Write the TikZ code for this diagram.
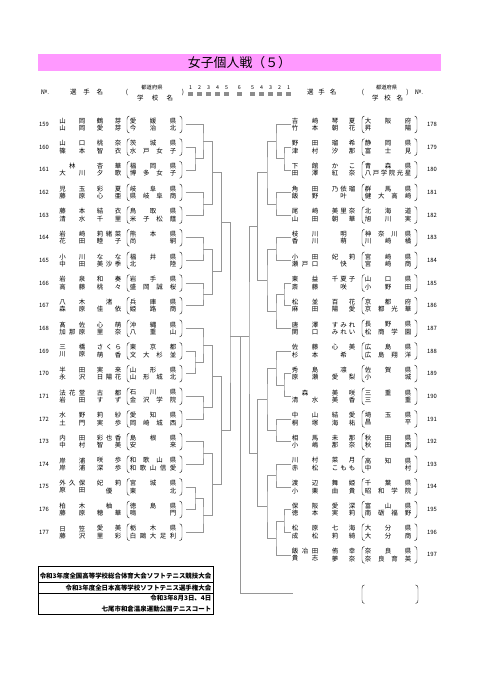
\documentclass[tikz,border=0pt]{standalone}
\usepackage{fontspec}
\setmainfont{Noto Sans CJK JP}
\usetikzlibrary{calc}
\definecolor{titlepink}{RGB}{255,153,255}
\definecolor{linegray}{RGB}{150,150,150}
\definecolor{markgray}{RGB}{140,140,140}
\newlength\px
\setlength\px{0.03cm}

\makeatletter
\def\spreadchars#1{\spread@step#1\relax}
\def\spread@step#1#2{#1\ifx\relax#2\else\hfill\expandafter\spread@step\expandafter#2\fi}
\makeatother

\newcommand{\openbr}[3]{%
  \draw[paren] ({#1+2.4},{#2-#3}) .. controls ({#1+0.4},{#2-#3+0.3}) and ({#1},{#2-#3+1.5}) .. ({#1},{#2-#3+3.5})
    -- ({#1},{#2+#3-3.5}) .. controls ({#1},{#2+#3-1.5}) and ({#1+0.4},{#2+#3-0.3}) .. ({#1+2.4},{#2+#3});}
\newcommand{\closebr}[3]{%
  \draw[paren] ({#1-2.4},{#2-#3}) .. controls ({#1-0.4},{#2-#3+0.3}) and ({#1},{#2-#3+1.5}) .. ({#1},{#2-#3+3.5})
    -- ({#1},{#2+#3-3.5}) .. controls ({#1},{#2+#3-1.5}) and ({#1-0.4},{#2+#3-0.3}) .. ({#1-2.4},{#2+#3});}

\newcommand{\entL}[7]{%
  \pgfmathsetmacro\ey{124.5+22.65*(#1-159)}
  \node[num] (n#1) at (44,\ey) {#1};
  \node[nm] (sa#1) at (72.25,{\ey-3.7}) {\makebox[26\px]{\spreadchars{#2}}};
  \node[nm] (ga#1) at (109,{\ey-3.7}) {\makebox[24.5\px]{\spreadchars{#3}}};
  \node[nm] (ka#1) at (153,{\ey-3.7}) {\makebox[46.5\px]{\spreadchars{#4}}};
  \node[nm] (sb#1) at (72.25,{\ey+3.7}) {\makebox[26\px]{\spreadchars{#5}}};
  \node[nm] (gb#1) at (109,{\ey+3.7}) {\makebox[24.5\px]{\spreadchars{#6}}};
  \node[nm] (kb#1) at (153,{\ey+3.7}) {\makebox[46.5\px]{\spreadchars{#7}}};
  \openbr{127}{\ey}{8.5}\closebr{182}{\ey}{8.5}
  \coordinate (e#1) at (185.5,\ey);}

\newcommand{\entR}[7]{%
  \pgfmathsetmacro\ey{124.5+22.65*(#1-178)}
  \node[num] (n#1) at (432,\ey) {#1};
  \node[nm] (sa#1) at (305,{\ey-3.7}) {\makebox[26.4\px]{\spreadchars{#2}}};
  \node[nm] (ga#1) at (343.5,{\ey-3.7}) {\makebox[23.5\px]{\spreadchars{#3}}};
  \node[nm] (ka#1) at (388,{\ey-3.7}) {\makebox[46.5\px]{\spreadchars{#4}}};
  \node[nm] (sb#1) at (305,{\ey+3.7}) {\makebox[26.4\px]{\spreadchars{#5}}};
  \node[nm] (gb#1) at (343.5,{\ey+3.7}) {\makebox[23.5\px]{\spreadchars{#6}}};
  \node[nm] (kb#1) at (388,{\ey+3.7}) {\makebox[46.5\px]{\spreadchars{#7}}};
  \openbr{362}{\ey}{8.5}\closebr{417}{\ey}{8.5}
  \coordinate (e#1) at (291,\ey);}

\newcommand{\pairup}[4]{%
  \path let \p1=(#2), \p2=(#3), \p3=(#4,0) in coordinate (#1) at (\x3,{(\y1+\y2)/2});
  \draw[brk] (#2) -| (#1) |- (#3);}

\begin{document}
\begin{tikzpicture}[x=0.03cm,y=-0.03cm,
    nm/.style={inner sep=0pt,font=\fontsize{5.5}{6}\selectfont},
    num/.style={inner sep=0pt,font=\fontsize{5}{6}\selectfont},
    hd/.style={inner sep=0pt,font=\fontsize{5.5}{6}\selectfont},
    hs/.style={inner sep=0pt,font=\fontsize{4.5}{5}\selectfont},
    info/.style={inner sep=0pt,anchor=east,font=\fontsize{5.5}{6}\selectfont\bfseries},
    brk/.style={draw=linegray,line width=0.45pt},
    paren/.style={draw=black!80,line width=0.4pt}]
  \useasboundingbox (0,0) rectangle (480,679);
  \fill[white] (0,0) rectangle (480,679);

  \node[fill=titlepink,minimum width=403\px,minimum height=16.5\px,inner sep=0pt,
    font=\fontsize{11}{13}\selectfont] (title) at (239.5,62.5) {女子個人戦（５）};

  \node[hd] (hnoL) at (45,92) {№.};
  \node[hd] (hnameL) at (86.5,92) {\makebox[33\px]{\spreadchars{選手名}}};
  \node[hd] (hopL) at (127,92) {(};
  \node[hs] (hprefL) at (152,87.7) {都道府県};
  \node[hd] (hschL) at (155,98.5) {\makebox[36\px]{\spreadchars{学校名}}};
  \node[hd] (hclL) at (183,92) {)};
  \node[hd] (hnameR) at (321.7,92) {\makebox[29\px]{\spreadchars{選手名}}};
  \node[hd] (hopR) at (363,92) {(};
  \node[hs] (hprefR) at (386.7,87.7) {都道府県};
  \node[hd] (hschR) at (387.5,98.5) {\makebox[31\px]{\spreadchars{学校名}}};
  \node[hd] (hclR) at (407.5,92) {)};
  \node[hd] (hnoR) at (419,92) {№.};
  \foreach \r/\xx [count=\i] in {1/190.7,2/199.5,3/208.5,4/217.7,5/226.7,6/239.3,5/252.7,4/261.7,3/270.7,2/279.5,1/288.5}{
    \node[hs] (rd\i) at (\xx,87.7) {\r};
    \fill[markgray] ({\xx-2.7},92.3) rectangle ({\xx+2.7},96.3);
  }

  \entL{159}{山岡}{鶴芽}{愛媛県}{山岡}{愛芽}{今治北}
  \entL{160}{山口}{桃奈}{茨城県}{篠本}{智衣}{水戸女子}
  \entL{161}{林}{杏華}{福岡県}{大川}{夕歌}{博多女子}
  \entL{162}{児玉}{彩夏}{岐阜県}{藤原}{心亜}{県岐阜商}
  \entL{163}{藤本}{結衣}{鳥取県}{清水}{千里}{米子松蔭}
  \entL{164}{岩崎}{莉緒菜}{熊本県}{花田}{睦子}{尚絅}
  \entL{165}{小川}{なな}{福井県}{中田}{美沙季}{北陸}
  \entL{166}{岩泉}{和奏}{岩手県}{高藤}{桃々}{盛岡誠桜}
  \entL{167}{八木}{渚}{兵庫県}{森原}{佳依}{姫路商}
  \entL{168}{髙佐}{心萌}{沖縄県}{加那原}{里奈}{八重山}
  \entL{169}{三橋}{さくら}{東京都}{川原}{萌香}{文大杉並}
  \entL{170}{半田}{実来}{山形県}{永沢}{日陽花}{山形城北}
  \entL{171}{法花堂}{古都}{石川県}{岩田}{すず}{金沢学院}
  \entL{172}{水野}{莉紗}{愛知県}{土門}{実歩}{岡崎城西}
  \entL{173}{内田}{彩也香}{島根県}{中村}{智美}{安来}
  \entL{174}{岸浦}{咲歩}{和歌山県}{岸浦}{深歩}{和歌山信愛}
  \entL{175}{外久保}{妃莉}{宮城県}{原田}{優}{東北}
  \entL{176}{柏木}{柚}{徳島県}{藤原}{穂華}{鳴門}
  \entL{177}{日笠}{愛美}{栃木県}{藤沢}{里彩}{白鷗大足利}

  \entR{178}{吉崎}{琴夏}{大阪府}{竹本}{朝花}{昇陽}
  \entR{179}{野田}{瑠希}{静岡県}{津村}{汐那}{富士見}
  \entR{180}{下館}{かこ}{青森県}{田澤}{紅奈}{八戸学院光星}
  \entR{181}{角田}{乃依瑠}{群馬県}{飯野}{叶}{健大高崎}
  \entR{182}{尾崎}{美里奈}{北海道}{山田}{朝華}{旭川実}
  \entR{183}{枝川}{明}{神奈川県}{香川}{萌}{川崎橘}
  \entR{184}{小田}{妃莉}{宮崎県}{瀬戸口}{快}{宮崎商}
  \entR{185}{東益}{千夏子}{山口県}{斎藤}{咲}{小野田}
  \entR{186}{松並}{百花}{京都府}{麻田}{陽愛}{京都光華}
  \entR{187}{唐澤}{すみれ}{長野県}{関口}{みれい}{松商学園}
  \entR{188}{佐藤}{心美}{広島県}{杉本}{希}{広島翔洋}
  \entR{189}{秀島}{凛}{佐賀県}{原瀬}{愛梨}{小城}
  \entR{190}{森}{美咲}{三重県}{清水}{美香}{三重}
  \entR{191}{中山}{結愛}{埼玉県}{桐塚}{海祐}{昌平}
  \entR{192}{相馬}{未那}{秋田県}{小嶋}{那奈}{秋田西}
  \entR{193}{川村}{菜月}{高知県}{赤松}{こもも}{中村}
  \entR{194}{渡辺}{舞姫}{千葉県}{小栗}{由貴}{昭和学院}
  \entR{195}{保阪}{愛深}{富山県}{徳本}{実莉}{南砺福野}
  \entR{196}{松原}{七海}{大分県}{成松}{莉綺}{大分商}
  \entR{197}{飯冶田}{侑幸}{奈良県}{貴志}{夢奈}{奈良育英}

  \pairup{la}{e160}{e161}{195}
  \pairup{lb}{e159}{la}{203}
  \pairup{lc}{e162}{e163}{203}
  \pairup{ld}{lb}{lc}{212.5}
  \pairup{le}{e164}{e165}{203}
  \pairup{lf}{e166}{e167}{203}
  \pairup{lg}{le}{lf}{212.5}
  \pairup{lh}{ld}{lg}{221.5}
  \pairup{li}{e169}{e170}{195}
  \pairup{lj}{e168}{li}{203}
  \pairup{lk}{e171}{e172}{203}
  \pairup{ll}{lj}{lk}{212.5}
  \pairup{lm}{e173}{e174}{203}
  \pairup{ln}{e175}{e176}{195}
  \pairup{lo}{ln}{e177}{203}
  \pairup{lp}{lm}{lo}{212.5}
  \pairup{lq}{ll}{lp}{221.5}

  \pairup{ra}{e179}{e180}{284}
  \pairup{rb}{e178}{ra}{276}
  \pairup{rc}{e181}{e182}{276}
  \pairup{rd}{rb}{rc}{267}
  \pairup{re}{e183}{e184}{276}
  \pairup{rf}{e185}{e186}{284}
  \pairup{rg}{rf}{e187}{276}
  \pairup{rh}{re}{rg}{267}
  \pairup{ri}{rd}{rh}{257.5}
  \pairup{rj}{e189}{e190}{284}
  \pairup{rk}{e188}{rj}{276}
  \pairup{rl}{e191}{e192}{276}
  \pairup{rm}{rk}{rl}{267}
  \pairup{rn}{e193}{e194}{276}
  \pairup{ro}{e195}{e196}{284}
  \pairup{rp}{ro}{e197}{276}
  \pairup{rq}{rn}{rp}{267}
  \pairup{rr}{rm}{rq}{257.5}

  \coordinate (lsf) at (230,336);
  \coordinate (rsf) at (249,336);
  \coordinate (ctr) at (240,336);
  \coordinate (win) at (293,593);
  \draw[brk] (lh) -| (lsf) |- (lq);
  \draw[brk] (ri) -| (rsf) |- (rr);
  \draw[brk] (lsf) -- (rsf);
  \draw[brk] (ctr) |- (win);
  \openbr{362}{594.2}{9.3}\closebr{418}{594.2}{9.3}

  \draw[line width=0.7pt] (38,566) rectangle (213,614);
  \draw[line width=0.4pt] (38,582) -- (213,582);
  \draw[line width=0.4pt] (38,593.3) -- (213,593.3);
  \node[info] (inf1) at (211.5,576.3) {令和3年度全国高等学校総合体育大会ソフトテニス競技大会};
  \node[info] (inf2) at (211.5,587.8) {令和3年度全日本高等学校ソフトテニス選手権大会};
  \node[info] (inf3) at (211.5,598.5) {令和3年8月3日、4日};
  \node[info] (inf4) at (211.5,609) {七尾市和倉温泉運動公園テニスコート};
\end{tikzpicture}
\end{document}
